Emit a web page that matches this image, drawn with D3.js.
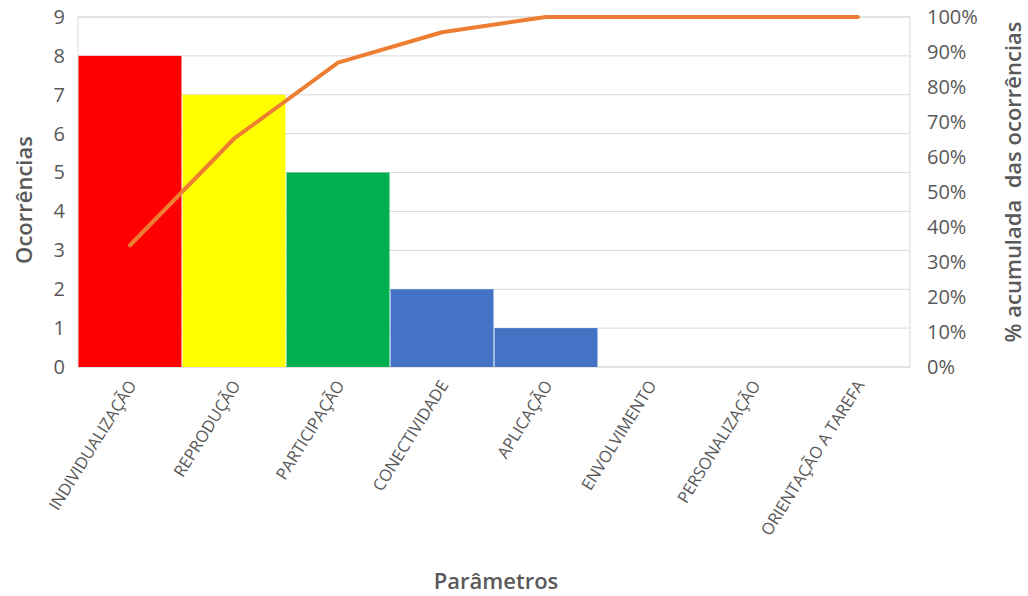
<!DOCTYPE html>
<html><head><meta charset="utf-8">
<script src="https://cdn.jsdelivr.net/npm/d3@7"></script>
<style>body{margin:0;background:#fff}svg{display:block}</style>
</head><body><svg id="c" width="1028" height="596"></svg>
<script>
const categories = ["INDIVIDUALIZAÇÃO","REPRODUÇÃO","PARTICIPAÇÃO","CONECTIVIDADE","APLICAÇÃO","ENVOLVIMENTO","PERSONALIZAÇÃO","ORIENTAÇÃO A TAREFA"];
const occurrences = [8,7,5,2,1,0,0,0];
const barColors = ["#FF0000","#FFFF00","#00B050","#4472C4","#4472C4","#4472C4","#4472C4","#4472C4"];
const leftTicks = [0,1,2,3,4,5,6,7,8,9];
const rightTicks = [0,0.1,0.2,0.3,0.4,0.5,0.6,0.7,0.8,0.9,1];

const total = d3.sum(occurrences);
let run = 0;
const cumulative = occurrences.map(v => (run += v) / total);

const svg = d3.select("#c");
const font = "'Open Sans', sans-serif";
const m = {left:78, right:910, top:17, bottom:367};

const x = d3.scaleBand().domain(categories).range([m.left, m.right]).padding(0);
const y = d3.scaleLinear().domain([0,9]).range([m.bottom, m.top]);
const y2 = d3.scaleLinear().domain([0,1]).range([m.bottom, m.top]);

// gridlines
svg.append("g").selectAll("line").data(leftTicks).join("line")
  .attr("x1", m.left).attr("x2", m.right)
  .attr("y1", d => y(d)).attr("y2", d => y(d))
  .attr("stroke", "#d9d9d9").attr("stroke-width", 1);
// plot frame
svg.append("rect").attr("x", m.left).attr("y", m.top)
  .attr("width", m.right - m.left).attr("height", m.bottom - m.top)
  .attr("fill", "none").attr("stroke", "#d9d9d9");

// bars
svg.append("g").selectAll("rect").data(occurrences).join("rect")
  .attr("x", (d,i) => x(categories[i]) + 0.5)
  .attr("width", x.bandwidth() - 1)
  .attr("y", d => y(d))
  .attr("height", d => y(0) - y(d))
  .attr("fill", (d,i) => barColors[i]);

// cumulative line
svg.append("path").datum(cumulative)
  .attr("fill", "none").attr("stroke", "#ED7D31").attr("stroke-width", 4)
  .attr("stroke-linecap", "round").attr("stroke-linejoin", "round")
  .attr("d", d3.line().x((d,i) => x(categories[i]) + x.bandwidth()/2).y(d => y2(d)));

// left axis
const ax = svg.append("g").attr("transform", `translate(${m.left},0)`)
  .call(d3.axisLeft(y).tickValues(leftTicks).tickSize(0).tickPadding(13));
ax.select(".domain").remove();
ax.selectAll("text").attr("font-family", font).attr("font-size", 20).attr("fill", "#595959");

// right axis
const ax2 = svg.append("g").attr("transform", `translate(${m.right},0)`)
  .call(d3.axisRight(y2).tickValues(rightTicks).tickFormat(d3.format(".0%")).tickSize(0).tickPadding(17));
ax2.select(".domain").remove();
ax2.selectAll("text").attr("font-family", font).attr("font-size", 20).attr("fill", "#595959");

// category labels
svg.append("g").selectAll("text").data(categories).join("text")
  .attr("transform", d => `translate(${x(d) + x.bandwidth()/2 + 7},${m.bottom + 18}) rotate(-58)`)
  .attr("text-anchor", "end")
  .attr("font-family", font).attr("font-size", 16.5).attr("fill", "#595959")
  .text(d => d);

// axis titles
svg.append("text").attr("transform", `translate(32,200) rotate(-90)`)
  .attr("text-anchor", "middle").attr("font-family", font).attr("font-size", 22)
  .attr("font-weight", 600).attr("fill", "#595959").text("Ocorrências");
svg.append("text").attr("transform", `translate(1021,182) rotate(-90)`)
  .attr("text-anchor", "middle").attr("font-family", font).attr("font-size", 22)
  .attr("font-weight", 600).attr("fill", "#595959").attr("xml:space", "preserve")
  .text("% acumulada  das ocorrências");
svg.append("text").attr("x", 496).attr("y", 589)
  .attr("text-anchor", "middle").attr("font-family", font).attr("font-size", 22)
  .attr("font-weight", 600).attr("fill", "#595959").text("Parâmetros");
</script></body></html>
